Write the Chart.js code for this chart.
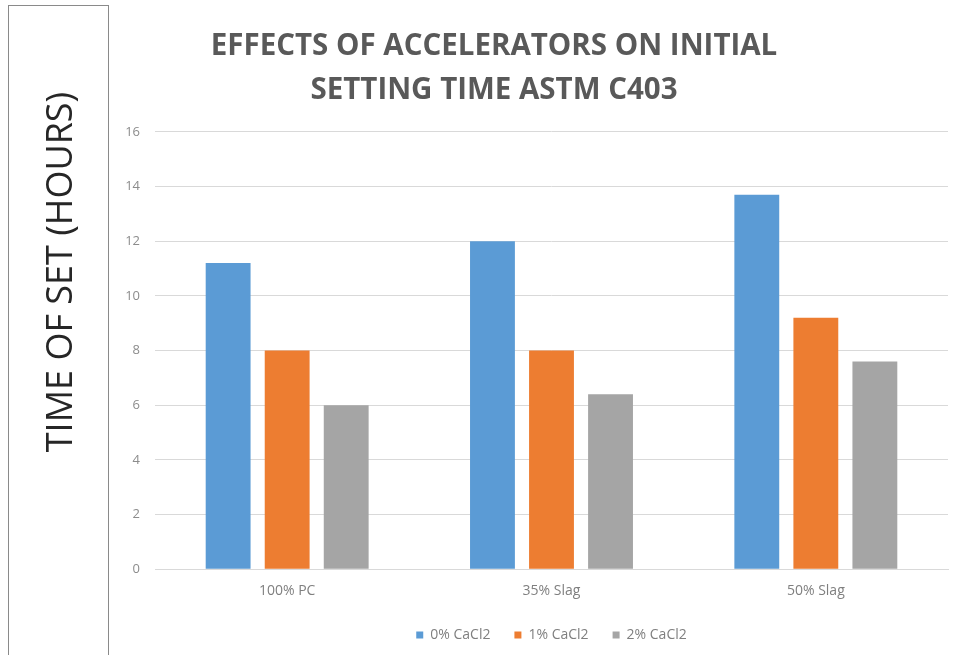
<!DOCTYPE html>
<html lang="en">
<head>
  <meta charset="UTF-8" />
  <title>Effects of Accelerators on Initial Setting Time</title>
  <script src="https://cdn.jsdelivr.net/npm/chart.js"></script>
  <style>
    body {
      margin: 0;
      background: #fff;
      font-family: 'Open Sans', sans-serif;
      width: 960px;
      height: 655px;
      overflow: hidden;
      position: relative;
    }

    .side {
      position: absolute;
      left: 8px;
      top: 5px;
      width: 101px;
      height: 660px;
      border: 1.5px solid #8a8a8a;
      border-bottom: none;
      box-sizing: border-box;
      z-index: 2;
    }

    .side span {
      position: absolute;
      left: 49%;
      top: 266px;
      transform: translate(-50%, -50%) rotate(-90deg);
      white-space: nowrap;
      font-size: 36px;
      color: #262626;
    }

    .chart-box {
      position: absolute;
      left: 8px;
      top: 0;
      width: 952px;
      height: 664px;
    }
  </style>
</head>
<body>

  <div class="side"><span>TIME OF SET (HOURS)</span></div>

  <div class="chart-box">
    <canvas id="setChart" width="952" height="664"></canvas>
  </div>

  <script>
    const categories = ['100% PC', '35% Slag', '50% Slag'];
    const series = ['0% CaCl2', '1% CaCl2', '2% CaCl2'];
    const noCaCl2 = [11.2, 12.0, 13.7];
    const oneCaCl2 = [8.0, 8.0, 9.2];
    const twoCaCl2 = [6.0, 6.4, 7.6];
    const yTicks = [0, 2, 4, 6, 8, 10, 12, 14, 16];
    const colors = ['#5B9BD5', '#ED7D31', '#A5A5A5'];

    new Chart(document.getElementById('setChart'), {
      type: 'bar',
      data: {
        labels: categories,
        datasets: [noCaCl2, oneCaCl2, twoCaCl2].map((d, i) => ({
          label: series[i],
          data: d,
          backgroundColor: colors[i],
          categoryPercentage: 0.67,
          barPercentage: 0.76
        }))
      },
      options: {
        responsive: false,
        animation: false,
        layout: { padding: { left: 32, right: 12, top: 0, bottom: 12 } },
        plugins: {
          title: {
            display: true,
            text: ['EFFECTS OF ACCELERATORS ON INITIAL', 'SETTING TIME ASTM C403'],
            color: '#595959',
            font: { family: 'Open Sans', size: 29.5, weight: 'bold', lineHeight: 1.49 },
            padding: { top: 25, bottom: 19 }
          },
          legend: {
            position: 'bottom',
            fullSize: false,
            labels: {
              boxWidth: 7,
              boxHeight: 7,
              color: '#7f7f7f',
              font: { family: 'Open Sans', size: 14 },
              padding: 24
            }
          },
          tooltip: { enabled: false }
        },
        scales: {
          x: {
            grid: { display: false },
            border: { color: '#d9d9d9' },
            ticks: { color: '#7f7f7f', font: { family: 'Open Sans', size: 14 }, padding: 5 }
          },
          y: {
            min: 0,
            max: 16,
            afterBuildTicks: axis => { axis.ticks = yTicks.map(v => ({ value: v })); },
            afterFit: axis => { axis.width = 115; },
            grid: { color: '#d9d9d9', drawTicks: false },
            border: { display: false },
            ticks: { color: '#8c8c8c', font: { family: 'Open Sans', size: 13 }, padding: 15 }
          }
        }
      }
    });
  </script>
</body>
</html>
